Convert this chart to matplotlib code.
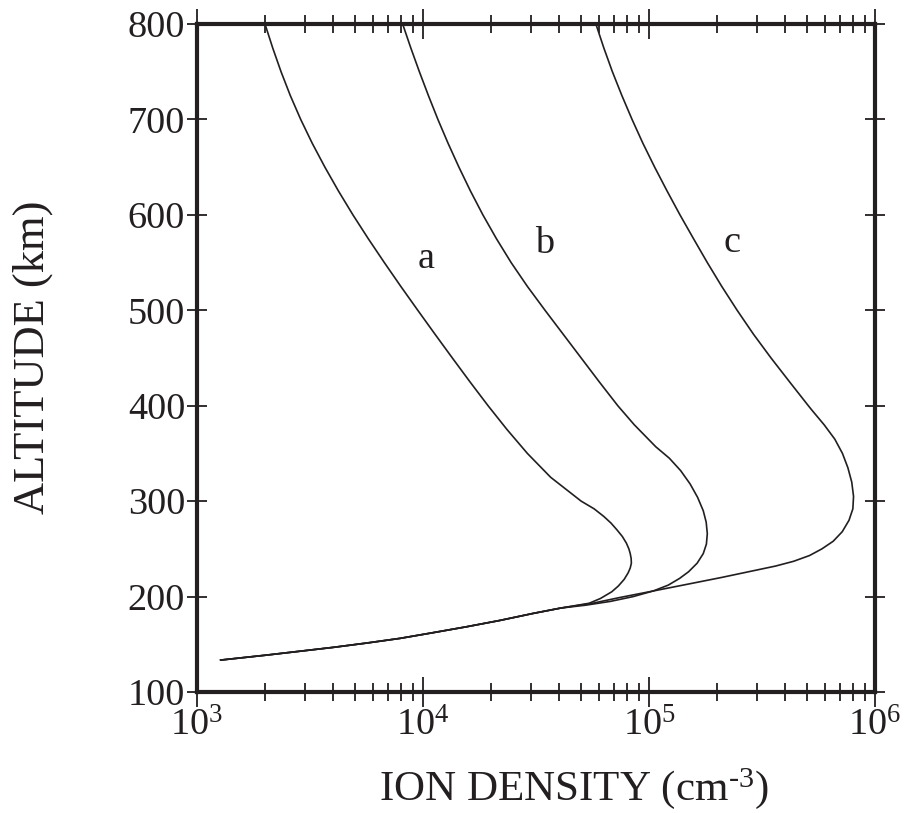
"""Ion density altitude profiles (a, b, c)."""
import matplotlib
matplotlib.use('Agg')
import matplotlib.pyplot as plt
from matplotlib.ticker import LogLocator, FixedLocator, NullFormatter
import numpy as np

plt.rcParams['font.family'] = ['Liberation Serif', 'DejaVu Serif']
plt.rcParams['mathtext.fontset'] = 'custom'
plt.rcParams['mathtext.rm'] = 'Liberation Serif'
plt.rcParams['mathtext.it'] = 'Liberation Serif:italic'

# values are log10 of ion density (cm^-3) against altitude (km)
# shared bottomside branch, from the join downwards
lower_logn = [4.61, 4.488, 4.34, 4.193, 4.04, 3.898, 3.75, 3.603, 3.45,
              3.308, 3.105]
lower_alt = [188, 182.4, 175, 168.4, 162, 156.2, 151.3, 146.8, 142.6,
             138.7, 133.5]

# profile a
a_logn = [3.301, 3.335, 3.372, 3.413, 3.459, 3.510, 3.566, 3.626, 3.690,
          3.758, 3.829, 3.902, 3.977, 4.053, 4.130, 4.208, 4.288, 4.372,
          4.462, 4.565, 4.700, 4.757, 4.800, 4.832, 4.858, 4.882, 4.900,
          4.911, 4.917, 4.921, 4.922, 4.917, 4.908, 4.89, 4.864, 4.835,
          4.785, 4.735]
a_alt = [800, 775, 750, 725, 700, 675, 650, 625, 600,
         575, 550, 525, 500, 475, 450, 425, 400, 375,
         350, 325, 300, 292, 284, 277, 270, 263, 256,
         250, 245, 240, 235, 230, 225, 218, 211, 205,
         198, 193]

# profile b
b_logn = [3.910, 3.946, 3.984, 4.024, 4.066, 4.111, 4.159, 4.210, 4.265,
          4.325, 4.390, 4.462, 4.540, 4.620, 4.700, 4.780, 4.862, 4.935,
          5.030, 5.09, 5.14, 5.182, 5.215, 5.240, 5.253, 5.258, 5.254,
          5.240, 5.213, 5.175, 5.135, 5.085, 5.02, 4.93, 4.83, 4.72]
b_alt = [800, 775, 750, 725, 700, 675, 650, 625, 600,
         575, 550, 525, 500, 475, 450, 425, 400, 380,
         357, 345, 332, 318, 304, 290, 278, 266, 255,
         245, 235, 226, 219, 212, 206, 200, 195, 191]

# profile c
c_logn = [4.765, 4.800, 4.838, 4.880, 4.925, 4.973, 5.025, 5.080, 5.137,
          5.197, 5.258, 5.322, 5.390, 5.462, 5.540, 5.622, 5.705, 5.722,
          5.775, 5.822, 5.856, 5.880, 5.897, 5.905, 5.902, 5.885, 5.855,
          5.815, 5.765, 5.71, 5.64, 5.56, 5.48, 5.32, 5.15, 5.00,
          4.87, 4.75]
c_alt = [800, 775, 750, 725, 700, 675, 650, 625, 600,
         575, 550, 525, 500, 475, 450, 425, 400, 395,
         380, 365, 350, 335, 320, 305, 292, 280, 268,
         258, 250, 243, 237, 232, 228, 220, 212, 205,
         199, 193]

curve_labels = ['a', 'b', 'c']
x_ticks = [1e3, 1e4, 1e5, 1e6]
x_ticklabels = ['$10^{3}$', '$10^{4}$', '$10^{5}$', '$10^{6}$']
y_ticks = [100, 200, 300, 400, 500, 600, 700, 800]

ink = '#231f20'

fig = plt.figure(figsize=(9.11, 8.13), dpi=100)
ax = fig.add_axes([0.2162, 0.1488, 0.7443, 0.8217])

for logn, alt in [(a_logn, a_alt), (b_logn, b_alt), (c_logn, c_alt)]:
    dens = 10.0 ** np.array(logn + lower_logn)
    ax.plot(dens, alt + lower_alt, color=ink, lw=1.2,
            solid_joinstyle='round')

ax.set_xscale('log')
ax.set_xlim(1e3, 1e6)
ax.set_ylim(100, 800)

ax.xaxis.set_major_locator(FixedLocator(x_ticks))
ax.set_xticklabels(x_ticklabels)
ax.xaxis.set_minor_locator(LogLocator(base=10, subs=np.arange(2, 10)))
ax.xaxis.set_minor_formatter(NullFormatter())
ax.set_yticks(y_ticks)

for sp in ax.spines.values():
    sp.set_linewidth(3.0)
    sp.set_color(ink)

ax.tick_params(axis='x', which='major', direction='inout', length=21,
               width=1.3, top=True, bottom=True, labelsize=27.5, pad=1,
               color=ink, labelcolor=ink)
ax.tick_params(axis='x', which='minor', direction='inout', length=13,
               width=1.3, top=True, bottom=True, color=ink)
ax.tick_params(axis='y', which='major', direction='inout', length=14,
               width=1.3, left=True, right=True, labelsize=27.5, pad=1.5,
               color=ink, labelcolor=ink)

# curve labels
label_pos = [(1.03e4, 554), (3.47e4, 570), (2.33e5, 571)]
for lab, (lx, ly) in zip(curve_labels, label_pos):
    ax.text(lx, ly, lab, fontsize=27.5, ha='center', va='center', color=ink)

fig.text(0.6295, 0.016, 'ION DENSITY (cm$^{\u2010 3}$)', fontsize=31,
         ha='center', va='baseline', color=ink)
fig.text(0.036, 0.5603, 'ALTITUDE (km)', fontsize=32, rotation=90,
         ha='center', va='center', color=ink)

plt.savefig('out.png', dpi=100)
